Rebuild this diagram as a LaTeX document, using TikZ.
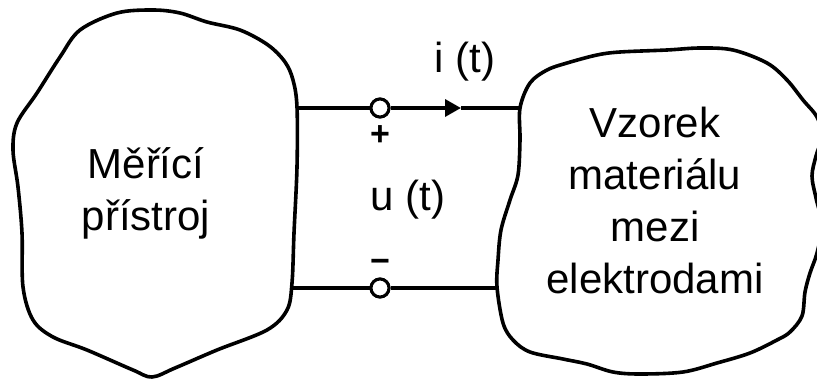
\documentclass[tikz,border=0pt]{standalone}
\usepackage{fontspec}
\setmainfont{Liberation Sans}
\usetikzlibrary{arrows.meta}
\tikzset{
  outline/.style={line width=3.6pt, line join=round, line cap=round},
  wire/.style={line width=3.4pt},
  terminal/.style={circle, draw, line width=3pt, fill=white, minimum size=18pt, inner sep=0pt},
  bigtext/.style={font=\fontsize{42}{51.7}\selectfont, align=center, inner sep=0pt},
  plustext/.style={font=\fontsize{34}{36}\selectfont\bfseries, inner sep=0pt},
  minustext/.style={font=\fontsize{34}{36}\selectfont\bfseries, inner sep=0pt},
}
\begin{document}
\begin{tikzpicture}[x=1pt, y=-1pt]
\useasboundingbox (0,0) rectangle (817,378);
\clip (0,0) rectangle (817,378);
% left blob
\draw[outline] plot[smooth cycle, tension=0.55] coordinates {
 (153,10) (180,13) (207,22) (240,30) (268,45) (285,62) (293,80) (297,107)
 (297,167) (294,233) (292,283) (287,310) (267,330) (217,350) (175,368) (152,377)
 (133,370) (87,350) (53,337) (33,320) (23,287) (22,233) (18,187) (13,150)
 (17,123) (37,93) (60,57) (80,30) (117,13)};
% right blob
\draw[outline] plot[smooth cycle, tension=0.55] coordinates {
 (520,108) (530,83) (547,70) (567,63) (597,55) (620,52) (667,50) (700,48)
 (733,50) (767,63) (787,80) (803,100) (817,117) (822,136) (816,156) (812,176)
 (816,198) (822,225) (817,253) (810,273) (805,292) (802,316) (790,332) (777,340) (750,353)
 (717,363) (683,372) (640,374) (613,372) (587,364) (563,359) (530,352) (513,340)
 (503,323) (497,287) (498,260) (501,230) (510,200) (518,175) (520,140)};
% texts (base anchor = baseline of the last line)
\node[bigtext, anchor=base] (meric) at (146,230) {Měřící\\přístroj};
\node[bigtext, anchor=base] (vzorek) at (655,293) {Vzorek\\materiálu\\mezi\\elektrodami};
\node[bigtext, anchor=base] (it) at (465,72) {i (t)};
\node[bigtext, anchor=base] (ut) at (408,210) {u (t)};
% connection points
\coordinate (L1) at (297,108);
\coordinate (L2) at (292,288);
\coordinate (R1) at (520,108);
\coordinate (R2) at (497,288);
\coordinate (A) at (461,108);
\node[terminal] (t1) at (380,108) {};
\node[terminal] (t2) at (380,288) {};
% wires
\draw[wire] (L1) -- (t1);
\draw[wire, -{Triangle[length=16pt, width=17pt]}] (t1) -- (A);
\draw[wire] (A) -- (R1);
\draw[wire] (L2) -- (t2) -- (R2);
\node[terminal] at (t1) {};
\node[terminal] at (t2) {};
% signs
\node[plustext] (plus) at (380,136) {+};
\node[minustext] (minus) at (380,266) {−};
\end{tikzpicture}
\end{document}
